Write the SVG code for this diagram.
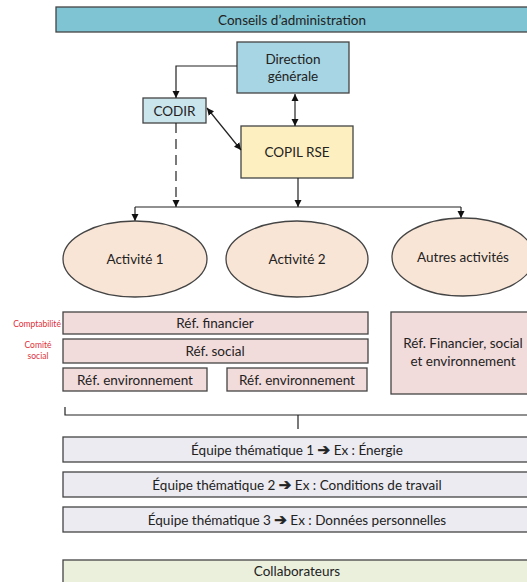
<svg xmlns="http://www.w3.org/2000/svg" width="527" height="582" viewBox="0 0 527 582">
<style>
text{font-family:Lato,"Liberation Sans",sans-serif;font-size:13.5px;fill:#222;text-anchor:middle;dominant-baseline:central}
.b{stroke:#444;stroke-width:1.3}
.c{fill:none;stroke:#222;stroke-width:1.2}
.red{fill:#e0303a;font-size:8.5px}
.ar{font-family:"DejaVu Sans",sans-serif;font-weight:bold;font-size:15px;stroke:#222;stroke-width:0.6}
</style>
<defs>
<marker id="ah" viewBox="0 0 10 10" refX="10" refY="5" markerWidth="7" markerHeight="8" orient="auto-start-reverse" markerUnits="userSpaceOnUse"><path d="M0,0L10,5L0,10z" fill="#111"/></marker>
</defs>
<rect width="527" height="582" fill="#fff"/>
<g id="conseils"><rect class="b" x="56" y="7" width="480" height="25" fill="#7fc4d3"/><text x="292" y="19.5">Conseils d’administration</text></g>
<g id="direction"><rect class="b" x="237" y="42" width="112" height="51" fill="#a7d5e3"/><text x="293" y="59">Direction</text><text x="293" y="76">générale</text></g>
<g id="codir"><rect class="b" x="143" y="98" width="63" height="25" fill="#cbe5ec"/><text x="174.5" y="110.5">CODIR</text></g>
<g id="copil"><rect class="b" x="241" y="126" width="112" height="52" fill="#fdefbf"/><text x="297" y="152">COPIL RSE</text></g>
<g id="connectors">
<path class="c" d="M237,66H176V98" marker-end="url(#ah)"/>
<path class="c" d="M295,94V126" marker-start="url(#ah)" marker-end="url(#ah)"/>
<path class="c" d="M207,108L241,150" marker-start="url(#ah)" marker-end="url(#ah)"/>
<path class="c" d="M176,123V207" stroke-dasharray="10,6" marker-end="url(#ah)"/>
<path class="c" d="M298,178V207" marker-end="url(#ah)"/>
<path class="c" d="M135,207H461"/>
<path class="c" d="M135,207V221" marker-end="url(#ah)"/>
<path class="c" d="M461,207V218" marker-end="url(#ah)"/>
<path class="c" d="M65,407V415H530M298,415V429"/>
</g>
<g id="activite1"><ellipse class="b" cx="135" cy="259" rx="72" ry="38" fill="#f9e5d6"/><text x="135" y="259">Activité 1</text></g>
<g id="activite2"><ellipse class="b" cx="297" cy="259" rx="71" ry="38" fill="#f9e5d6"/><text x="297" y="259">Activité 2</text></g>
<g id="autres"><ellipse class="b" cx="463" cy="257" rx="71" ry="39" fill="#f9e5d6"/><text x="463" y="257">Autres activités</text></g>
<g id="labels"><text class="red" x="37" y="324">Comptabilité</text><text class="red" x="38" y="345">Comité</text><text class="red" x="38" y="356">social</text></g>
<g id="ref-financier"><rect class="b" x="63" y="312" width="305" height="22" fill="#f2dbdb"/><text x="215" y="323">Réf. financier</text></g>
<g id="ref-social"><rect class="b" x="63" y="339" width="305" height="24" fill="#f2dbdb"/><text x="215" y="351">Réf. social</text></g>
<g id="ref-env1"><rect class="b" x="63" y="368" width="144" height="23" fill="#f2dbdb"/><text x="135" y="379.5">Réf. environnement</text></g>
<g id="ref-env2"><rect class="b" x="227" y="368" width="140" height="23" fill="#f2dbdb"/><text x="297" y="379.5">Réf. environnement</text></g>
<g id="ref-global"><rect class="b" x="391" y="312" width="150" height="82" fill="#f2dbdb"/><text x="463" y="343">Réf. Financier, social</text><text x="463" y="361">et environnement</text></g>
<g id="equipe1"><rect class="b" x="63" y="437" width="480" height="25" fill="#ecebf1"/><text x="297" y="449.5">Équipe thématique 1 <tspan class="ar">➔</tspan> Ex : Énergie</text></g>
<g id="equipe2"><rect class="b" x="63" y="472" width="480" height="25" fill="#ecebf1"/><text x="297" y="484.5">Équipe thématique 2 <tspan class="ar">➔</tspan> Ex : Conditions de travail</text></g>
<g id="equipe3"><rect class="b" x="63" y="507" width="480" height="25" fill="#ecebf1"/><text x="297" y="519.5">Équipe thématique 3 <tspan class="ar">➔</tspan> Ex : Données personnelles</text></g>
<g id="collaborateurs"><rect class="b" x="63" y="560" width="480" height="30" fill="#eaf0dc"/><text x="297" y="571">Collaborateurs</text></g>
</svg>
